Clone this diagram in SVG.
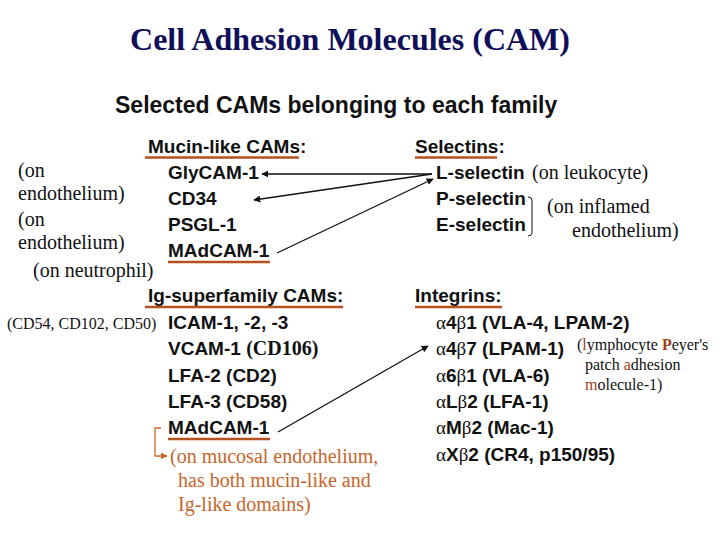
<svg xmlns="http://www.w3.org/2000/svg" width="720" height="540" viewBox="0 0 720 540">
<style>
.t{font-family:"Liberation Serif","Times New Roman",serif;font-weight:bold;font-size:32px;fill:#0f0f5a}
.h{font-family:"Liberation Sans",Arial,sans-serif;font-weight:bold;font-size:23px;fill:#111}
.s{font-family:"Liberation Sans",Arial,sans-serif;font-weight:bold;font-size:19px;fill:#111}
.n{font-family:"Liberation Serif","Times New Roman",serif;font-size:20px;fill:#111}
.ns{font-family:"Liberation Serif","Times New Roman",serif;font-size:16px;fill:#111}
.o{font-family:"Liberation Serif","Times New Roman",serif;font-size:20px;fill:#c8652a}
.g{font-family:"Liberation Serif","Times New Roman",serif;font-weight:normal}
.gb{font-family:"Liberation Serif","Times New Roman",serif;font-weight:bold;font-size:20px}
.br{fill:#a0401a}
.ul{stroke:#b5501f;stroke-width:2.5}
.ar{stroke:#111;stroke-width:1.3;fill:none}
</style>
<defs>
<marker id="ah" viewBox="0 0 10 10" refX="9" refY="5" markerWidth="7" markerHeight="7" orient="auto" markerUnits="userSpaceOnUse"><path d="M0,0 L10,5 L0,10 z" fill="#111"/></marker>
<marker id="aho" viewBox="0 0 10 10" refX="9" refY="5" markerWidth="7" markerHeight="7" orient="auto" markerUnits="userSpaceOnUse"><path d="M0,0 L10,5 L0,10 z" fill="#c8652a"/></marker>
</defs>
<rect width="720" height="540" fill="#fff"/>
<g id="title"><text class="t" x="350" y="50" text-anchor="middle">Cell Adhesion Molecules (CAM)</text></g>
<g id="subtitle"><text class="h" x="115" y="113">Selected CAMs belonging to each family</text></g>

<g id="mucin">
<text class="s" x="148" y="153">Mucin-like CAMs:</text>
<line class="ul" x1="145" y1="157.5" x2="299" y2="157.5"/>
<text class="s" x="168" y="179">GlyCAM-1</text>
<text class="s" x="168" y="205">CD34</text>
<text class="s" x="168" y="231">PSGL-1</text>
<text class="s" x="168" y="257">MAdCAM-1</text>
<line class="ul" x1="168" y1="262" x2="270" y2="262"/>
<text class="n" x="18" y="177">(on</text>
<text class="n" x="18" y="200">endothelium)</text>
<text class="n" x="18" y="226">(on</text>
<text class="n" x="18" y="249">endothelium)</text>
<text class="n" x="33" y="277">(on neutrophil)</text>
</g>

<g id="selectins">
<text class="s" x="415" y="153">Selectins:</text>
<line class="ul" x1="415" y1="157.5" x2="497" y2="157.5"/>
<text class="s" x="436" y="179">L-selectin</text>
<text class="s" x="436" y="205">P-selectin</text>
<text class="s" x="436" y="231">E-selectin</text>
<text class="n" x="532" y="179">(on leukocyte)</text>
<path d="M528,197 Q532,197 532,200 L532,233 Q532,236 528,236" stroke="#111" stroke-width="1" fill="none"/>
<text class="n" x="547" y="213">(on inflamed</text>
<text class="n" x="572" y="237">endothelium)</text>
</g>

<g id="igsf">
<text class="s" x="148" y="302">Ig-superfamily CAMs:</text>
<line class="ul" x1="145" y1="307" x2="343" y2="307"/>
<text class="ns" x="7" y="329">(CD54, CD102, CD50)</text>
<text class="s" x="168" y="329">ICAM-1, -2, -3</text>
<text class="s" x="168" y="355">VCAM-1 <tspan class="gb">(CD106)</tspan></text>
<text class="s" x="168" y="382">LFA-2 (CD2)</text>
<text class="s" x="168" y="408">LFA-3 (CD58)</text>
<text class="s" x="168" y="434">MAdCAM-1</text>
<line class="ul" x1="168" y1="439" x2="270" y2="439"/>
<text class="o" x="170" y="463">(on mucosal endothelium,</text>
<text class="o" x="178" y="487">has both mucin-like and</text>
<text class="o" x="178" y="511">Ig-like domains)</text>
</g>

<g id="integrins">
<text class="s" x="415" y="302">Integrins:</text>
<line class="ul" x1="415" y1="307" x2="502" y2="307"/>
<text class="s" x="436" y="329"><tspan class="g">α</tspan>4<tspan class="g">β</tspan>1 (VLA-4, LPAM-2)</text>
<text class="s" x="436" y="355"><tspan class="g">α</tspan>4<tspan class="g">β</tspan>7 (LPAM-1)</text>
<text class="s" x="436" y="382"><tspan class="g">α</tspan>6<tspan class="g">β</tspan>1 (VLA-6)</text>
<text class="s" x="436" y="408"><tspan class="g">α</tspan>L<tspan class="g">β</tspan>2 (LFA-1)</text>
<text class="s" x="436" y="434"><tspan class="g">α</tspan>M<tspan class="g">β</tspan>2 (Mac-1)</text>
<text class="s" x="436" y="461"><tspan class="g">α</tspan>X<tspan class="g">β</tspan>2 (CR4, p150/95)</text>
<text class="ns" x="577" y="350">(<tspan class="br">l</tspan>ymphocyte <tspan class="br" style="font-weight:bold">P</tspan>eyer's</text>
<text class="ns" x="585" y="370">patch <tspan class="br">a</tspan>dhesion</text>
<text class="ns" x="585" y="390"><tspan class="br">m</tspan>olecule-1)</text>
</g>

<g id="connectors">
<line class="ar" x1="432" y1="174" x2="262" y2="174" marker-end="url(#ah)"/>
<line class="ar" x1="432" y1="174" x2="254" y2="200" marker-end="url(#ah)"/>
<line class="ar" x1="277" y1="253" x2="433" y2="179" marker-end="url(#ah)"/>
<line class="ar" x1="278" y1="432" x2="428" y2="346" marker-end="url(#ah)"/>
<path d="M161,428 L155,428 L155,456 L167,456" stroke="#c8652a" stroke-width="1.3" fill="none" marker-end="url(#aho)"/>
</g>
</svg>
